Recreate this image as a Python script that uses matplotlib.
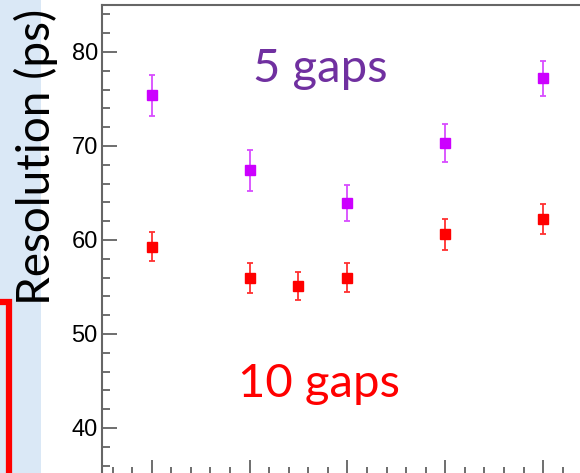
import matplotlib
matplotlib.use('Agg')
import matplotlib.pyplot as plt
from matplotlib.ticker import MultipleLocator, NullFormatter
from matplotlib.patches import Rectangle

# Resolution measurements, 5-gap and 10-gap chambers
x_5gaps = [1, 2, 3, 4, 5]
res_5gaps = [75.4, 67.4, 63.9, 70.3, 77.2]
err_5gaps = [2.2, 2.2, 1.9, 2.0, 1.85]

x_10gaps = [1, 2, 2.5, 3, 4, 5]
res_10gaps = [59.3, 56.0, 55.1, 56.0, 60.6, 62.2]
err_10gaps = [1.5, 1.6, 1.5, 1.55, 1.65, 1.6]

W, H = 580, 473
fig = plt.figure(figsize=(W / 100, H / 100), dpi=100)

# slide background strip and the red frame on the left
fig.patches.append(Rectangle((0, 0), 41 / W, 1, transform=fig.transFigure,
                             facecolor='#dae8f6', edgecolor='none', zorder=0))
fig.patches.append(Rectangle((-100 / W, -0.2), 109 / W, 0.2 + 1 - 302 / H,
                             transform=fig.transFigure, facecolor='none',
                             edgecolor='#ff0000', linewidth=4.5, zorder=1))

ax = fig.add_axes([102 / W, -2 / H, 490 / W, 470 / H])
ax.set_xlim(0.492, 5.5)
ax.set_ylim(35, 85)

ax.errorbar(x_5gaps, res_5gaps, yerr=err_5gaps, fmt='s', color='#cc00ff',
            ecolor='#d84cff', markersize=7, elinewidth=1.3, capsize=2.5,
            capthick=1.3)
ax.errorbar(x_10gaps, res_10gaps, yerr=err_10gaps, fmt='s', color='#ff0000',
            ecolor='#ff3030', markersize=7, elinewidth=1.3, capsize=2.5,
            capthick=1.3)

fig.text(320 / W, 1 - 82 / H, '5 gaps', color='#7030a0', fontsize=34,
         family='Lato', ha='center', va='baseline')
fig.text(318.5 / W, 1 - 397 / H, '10 gaps', color='#ff0000', fontsize=34,
         family='Lato', ha='center', va='baseline')

ax.yaxis.set_major_locator(MultipleLocator(10))
ax.yaxis.set_minor_locator(MultipleLocator(2))
ax.xaxis.set_major_locator(MultipleLocator(1))
ax.xaxis.set_minor_locator(MultipleLocator(0.2))
ax.xaxis.set_major_formatter(NullFormatter())

ax.tick_params(which='both', direction='in', top=False, right=False,
               color='#555555', width=1.2)
ax.tick_params(which='major', length=11)
ax.tick_params(which='minor', length=6)
ax.tick_params(axis='y', labelsize=17, pad=3)
for t in ax.get_yticklabels():
    t.set_family('Liberation Sans')

for s in ax.spines.values():
    s.set_color('#666666')
    s.set_linewidth(1.5)

fig.text(36 / W, 1 - 157 / H, 'Resolution (ps)', rotation=90, fontsize=33,
         family='Lato', ha='center', va='center', color='black')

fig.savefig('out.png', dpi=100)
